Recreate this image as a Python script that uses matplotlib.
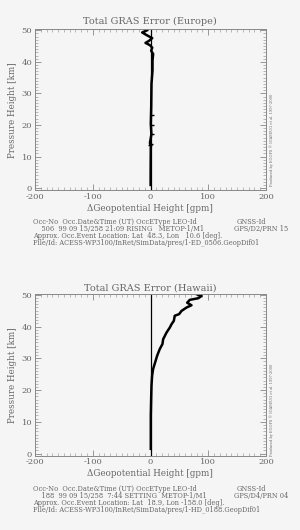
import numpy as np
import matplotlib
matplotlib.use("Agg")
import matplotlib.pyplot as plt
from matplotlib.ticker import MultipleLocator

# --- data ---
# Europe profile: geopotential height error [gpm] vs pressure height [km]
eu_height = [50.0, 49.3, 48.5, 47.5, 46.6, 46.0, 45.3, 44.5, 43.5, 42.5, 40.4,
             37.3, 33.0, 25.7, 20.4, 17.0, 14.3, 13.5, 8.0, 2.7, 1.0]
eu_dz = [-5.8, -14.4, -7.0, 3.0, -3.0, -8.7, -1.2, 3.0, 1.2, 4.6, 3.5,
         3.5, 1.7, 1.2, 0.5, 1.5, -1.0, 0.5, 0.3, 0.2, 0.2]
eu_mark_h = [23.0, 20.0, 17.0, 14.0, 13.5]
eu_mark_dz = [2.0, 2.5, 2.0, 0.0, -1.5]

# Hawaii profile
hw_height = [50.2, 49.6, 48.9, 48.4, 47.5, 46.7, 46.0, 44.9, 43.9, 43.4, 41.8,
             40.7, 39.7, 38.1, 36.0, 34.5, 32.9, 30.8, 28.7, 26.6, 24.5, 21.4,
             17.2, 12.0, 1.5]
hw_dz = [79.7, 88.4, 82.5, 68.0, 63.5, 71.0, 62.5, 53.6, 49.5, 42.0, 40.4,
         36.3, 33.5, 27.7, 21.9, 20.7, 16.0, 11.5, 8.0, 4.5, 2.8, 1.7,
         1.1, 0.5, 0.5]

x_ticks = [-200, -100, 0, 100, 200]
y_ticks = [0, 10, 20, 30, 40, 50]

titles = ["Total GRAS Error (Europe)", "Total GRAS Error (Hawaii)"]
info_eu = ["Occ-No  Occ.Date&Time (UT) OccEType LEO-Id",
           "    506  99 09 15/258 21:09 RISING   METOP-1/M1",
           "Approx. Occ.Event Location: Lat  48.3, Lon   10.6 [deg].",
           "File/Id: ACESS-WP3100/InRet/SimData/pres/1-ED_0506.GeopDif01"]
gnss_eu = ["GNSS-Id", "GPS/D2/PRN 15"]
info_hw = ["Occ-No  Occ.Date&Time (UT) OccEType LEO-Id",
           "    188  99 09 15/258  7:44 SETTING  METOP-1/M1",
           "Approx. Occ.Event Location: Lat  18.9, Lon -158.0 [deg].",
           "File/Id: ACESS-WP3100/InRet/SimData/pres/1-HD_0188.GeopDif01"]
gnss_hw = ["GNSS-Id", "GPS/D4/PRN 04"]
credit = "Produced by EGOPS \u00ae IGAM/UG et al. 1997-2000"

W, H = 300, 530
bg = "#f5f5f5"
grey = "#666666"
plt.rcParams["font.family"] = ["DejaVu Serif"]
plt.rcParams["axes.unicode_minus"] = False

fig = plt.figure(figsize=(W / 100, H / 100), dpi=100, facecolor=bg)


def px(x, y):
    return x / W, 1 - y / H


def make_axes(top, bottom):
    ax = fig.add_axes([35 / W, 1 - bottom / H, 231 / W, (bottom - top) / H])
    ax.set_facecolor(bg)
    ax.set_xlim(-200, 200)
    ax.set_ylim(-0.6, 50.4)
    ax.set_xticks(x_ticks)
    ax.set_yticks(y_ticks)
    ax.xaxis.set_minor_locator(MultipleLocator(10))
    ax.yaxis.set_minor_locator(MultipleLocator(1))
    ax.tick_params(which="both", direction="in", top=True, right=True,
                   colors="#888888", labelcolor=grey, labelsize=6, pad=2)
    ax.tick_params(which="major", length=4, width=0.6)
    ax.tick_params(which="minor", length=2, width=0.4)
    for s in ax.spines.values():
        s.set_color("#888888")
        s.set_linewidth(0.7)
    ax.axvline(0, color="black", lw=0.9)
    return ax


ax1 = make_axes(29, 190)
ax1.plot(eu_dz, eu_height, color="black", lw=1.8)
ax1.plot(eu_mark_dz, eu_mark_h, ls="none", marker="_", ms=3, mew=1, color="black")

ax2 = make_axes(293.5, 455.5)
ax2.plot(hw_dz, hw_height, color="black", lw=1.8)

for ax, title, t_y, xl_y in [(ax1, titles[0], 21.7, 208.7), (ax2, titles[1], 287.7, 474)]:
    fig.text(*px(150, t_y), title, ha="center", va="center", fontsize=7, color=grey)
    fig.text(*px(150, xl_y), "\u0394Geopotential Height [gpm]", ha="center",
             va="center", fontsize=6.3, color=grey)

for y0 in (110, 375):
    fig.text(*px(13, y0), "Pressure Height [km]", rotation=90, ha="center",
             va="center", fontsize=6.3, color=grey)

for info, gnss, y0 in [(info_eu, gnss_eu, 221.7), (info_hw, gnss_hw, 489)]:
    for i, line in enumerate(info):
        fig.text(*px(33, y0 + 7 * i), line, ha="left", va="center",
                 fontsize=4.8, color=grey)
    fig.text(*px(237, y0), gnss[0], ha="left", va="center", fontsize=4.8, color=grey)
    fig.text(*px(234, y0 + 7), gnss[1], ha="left", va="center", fontsize=4.8, color=grey)

for y0 in (140, 410):
    fig.text(*px(272, y0), credit, rotation=90, ha="center", va="center",
             fontsize=2.6, color=grey)

fig.savefig("out.png", dpi=100, facecolor=bg)
